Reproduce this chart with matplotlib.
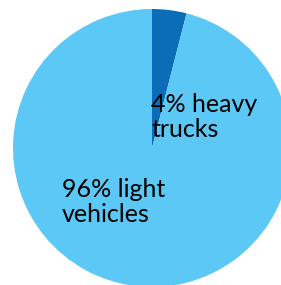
import matplotlib
matplotlib.use("Agg")
import matplotlib.pyplot as plt

# Data
labels = ["4% heavy\ntrucks", "96% light\nvehicles"]
shares = [4, 96]
colors = ["#0b6db7", "#5bc8f5"]

W, H = 281, 285
fig = plt.figure(figsize=(W / 100, H / 100), dpi=100)
ax = fig.add_axes([0, 0, 1, 1])

# pie is bigger than the canvas, gets clipped at right and bottom
ax.pie(shares, colors=colors, startangle=90, counterclock=False,
       center=(152, H - 148), radius=139, frame=True,
       wedgeprops=dict(linewidth=0))
ax.set_xlim(0, W)
ax.set_ylim(0, H)
ax.axis("off")

font = dict(family="Lato", fontsize=18, color="black",
            va="baseline", ha="left", linespacing=1.12)
ax.text(151, H - 137, labels[0], **font)
ax.text(62, H - 222, labels[1], **font)

fig.savefig("out.png", dpi=100)
